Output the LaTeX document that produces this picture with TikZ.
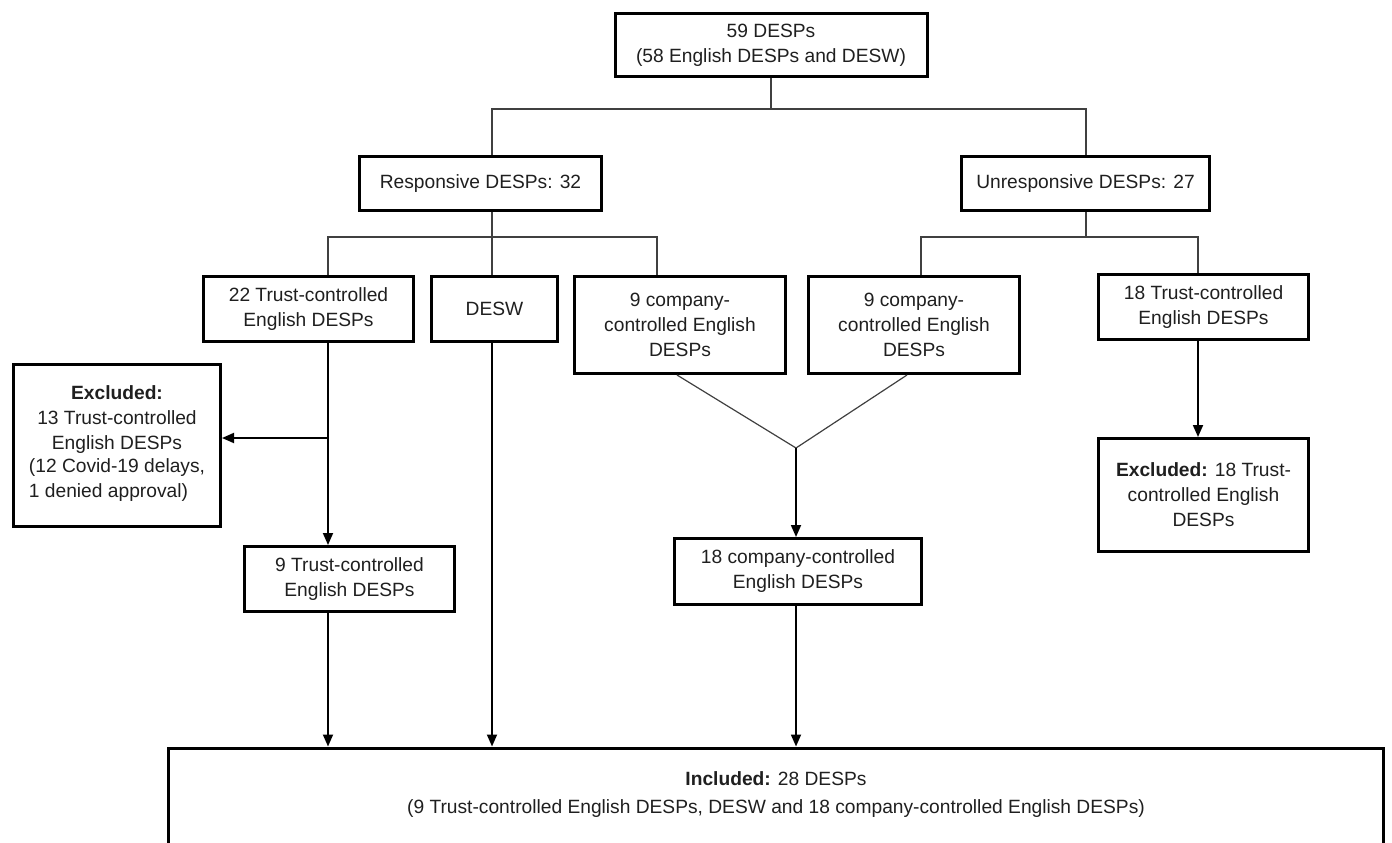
\documentclass[tikz,border=0pt]{standalone}
\usepackage{fontspec}
\setmainfont{Liberation Sans}
\usetikzlibrary{arrows.meta}
\begin{document}
\begin{tikzpicture}[x=1pt,y=-1pt,
  box/.style={draw=black, line width=3pt, inner sep=0pt, align=center,
    font=\fontsize{19.2}{25}\selectfont, text=black!88},
  txt/.style={inner sep=0pt, align=center, font=\fontsize{19.2}{28}\selectfont, text=black!88},
  tree/.style={draw=black!75, line width=1.2pt},
  arr/.style={draw=black, line width=1.8pt, -{Triangle[length=12pt,width=10pt]}}]
\useasboundingbox (0,0) rectangle (1392,843);
% boxes
\node[box, minimum width=312pt, minimum height=63pt] (top) at (771,45.5) {59 DESPs\\(58 English DESPs and DESW)};
\node[box, minimum width=242pt, minimum height=54pt] (resp) at (480.5,183.5) {Responsive DESPs: 32};
\node[box, minimum width=248pt, minimum height=54pt] (unresp) at (1085.5,183.5) {Unresponsive DESPs: 27};
\node[box, minimum width=210pt, minimum height=65pt] (tl) at (308.5,309) {22 Trust-controlled\\English DESPs};
\node[box, minimum width=126pt, minimum height=65pt] (desw) at (494.5,309) {DESW};
\node[box, minimum width=211pt, minimum height=97pt] (cl) at (680,325) {9 company-\\controlled English\\DESPs};
\node[box, minimum width=211pt, minimum height=97pt] (cr) at (914,325) {9 company-\\controlled English\\DESPs};
\node[box, minimum width=210pt, minimum height=65pt] (tr) at (1203.5,307) {18 Trust-controlled\\English DESPs};
\node[box, minimum width=210pt, minimum height=113pt] (exr) at (1203.5,495) {\textbf{Excluded:} 18 Trust-\\controlled English\\DESPs};
\node[box, minimum width=207pt, minimum height=162pt] (exl) at (117,445.5) {\textbf{Excluded:}\\13 Trust-controlled\\English DESPs\\\begin{tabular}{@{}l@{}}(12 Covid-19 delays,\\1 denied approval)\end{tabular}};
\node[box, minimum width=210pt, minimum height=65pt] (tn) at (349.5,579) {9 Trust-controlled\\English DESPs};
\node[box, minimum width=247pt, minimum height=66pt] (cm) at (798,571.5) {18 company-controlled\\English DESPs};
\node[box, minimum width=1215pt, minimum height=128pt] (inc) at (776,812) {};
\node[txt] (inctext) at (776,795) {\textbf{Included:} 28 DESPs\\(9 Trust-controlled English DESPs, DESW and 18 company-controlled English DESPs)};
% tree connectors
\coordinate (b1) at (492,109); \coordinate (b2) at (1086,109);
\draw[tree] (top.south) -- (top.south |- b1);
\draw[tree] (b1 |- resp.north) -- (b1) -- (b2) -- (b2 |- unresp.north);
\coordinate (r1) at (328,237); \coordinate (r2) at (492,237); \coordinate (r3) at (657,237);
\draw[tree] (r2 |- resp.south) -- (r2 |- desw.north);
\draw[tree] (r1 |- tl.north) -- (r1) -- (r3) -- (r3 |- cl.north);
\coordinate (u1) at (921,237); \coordinate (u2) at (1086,237); \coordinate (u3) at (1198,237);
\draw[tree] (u2 |- unresp.south) -- (u2);
\draw[tree] (u1 |- cr.north) -- (u1) -- (u3) -- (u3 |- tr.north);
\coordinate (m) at (796,448);
\coordinate (mx1) at (677,0); \coordinate (mx2) at (907,0);
\draw[tree] (cl.south -| mx1) -- (m) -- (cr.south -| mx2);
% arrows
\coordinate (x1) at (328,438);
\draw[arr] (x1 |- tl.south) -- (x1 |- tn.north);
\draw[arr] (x1) -- (exl.east |- x1);
\draw[arr] (x1 |- tn.south) -- (x1 |- inc.north);
\draw[arr] (r2 |- desw.south) -- (r2 |- inc.north);
\draw[arr] (m) -- (m |- cm.north);
\draw[arr] (m |- cm.south) -- (m |- inc.north);
\draw[arr] (u3 |- tr.south) -- (u3 |- exr.north);
\end{tikzpicture}
\end{document}
